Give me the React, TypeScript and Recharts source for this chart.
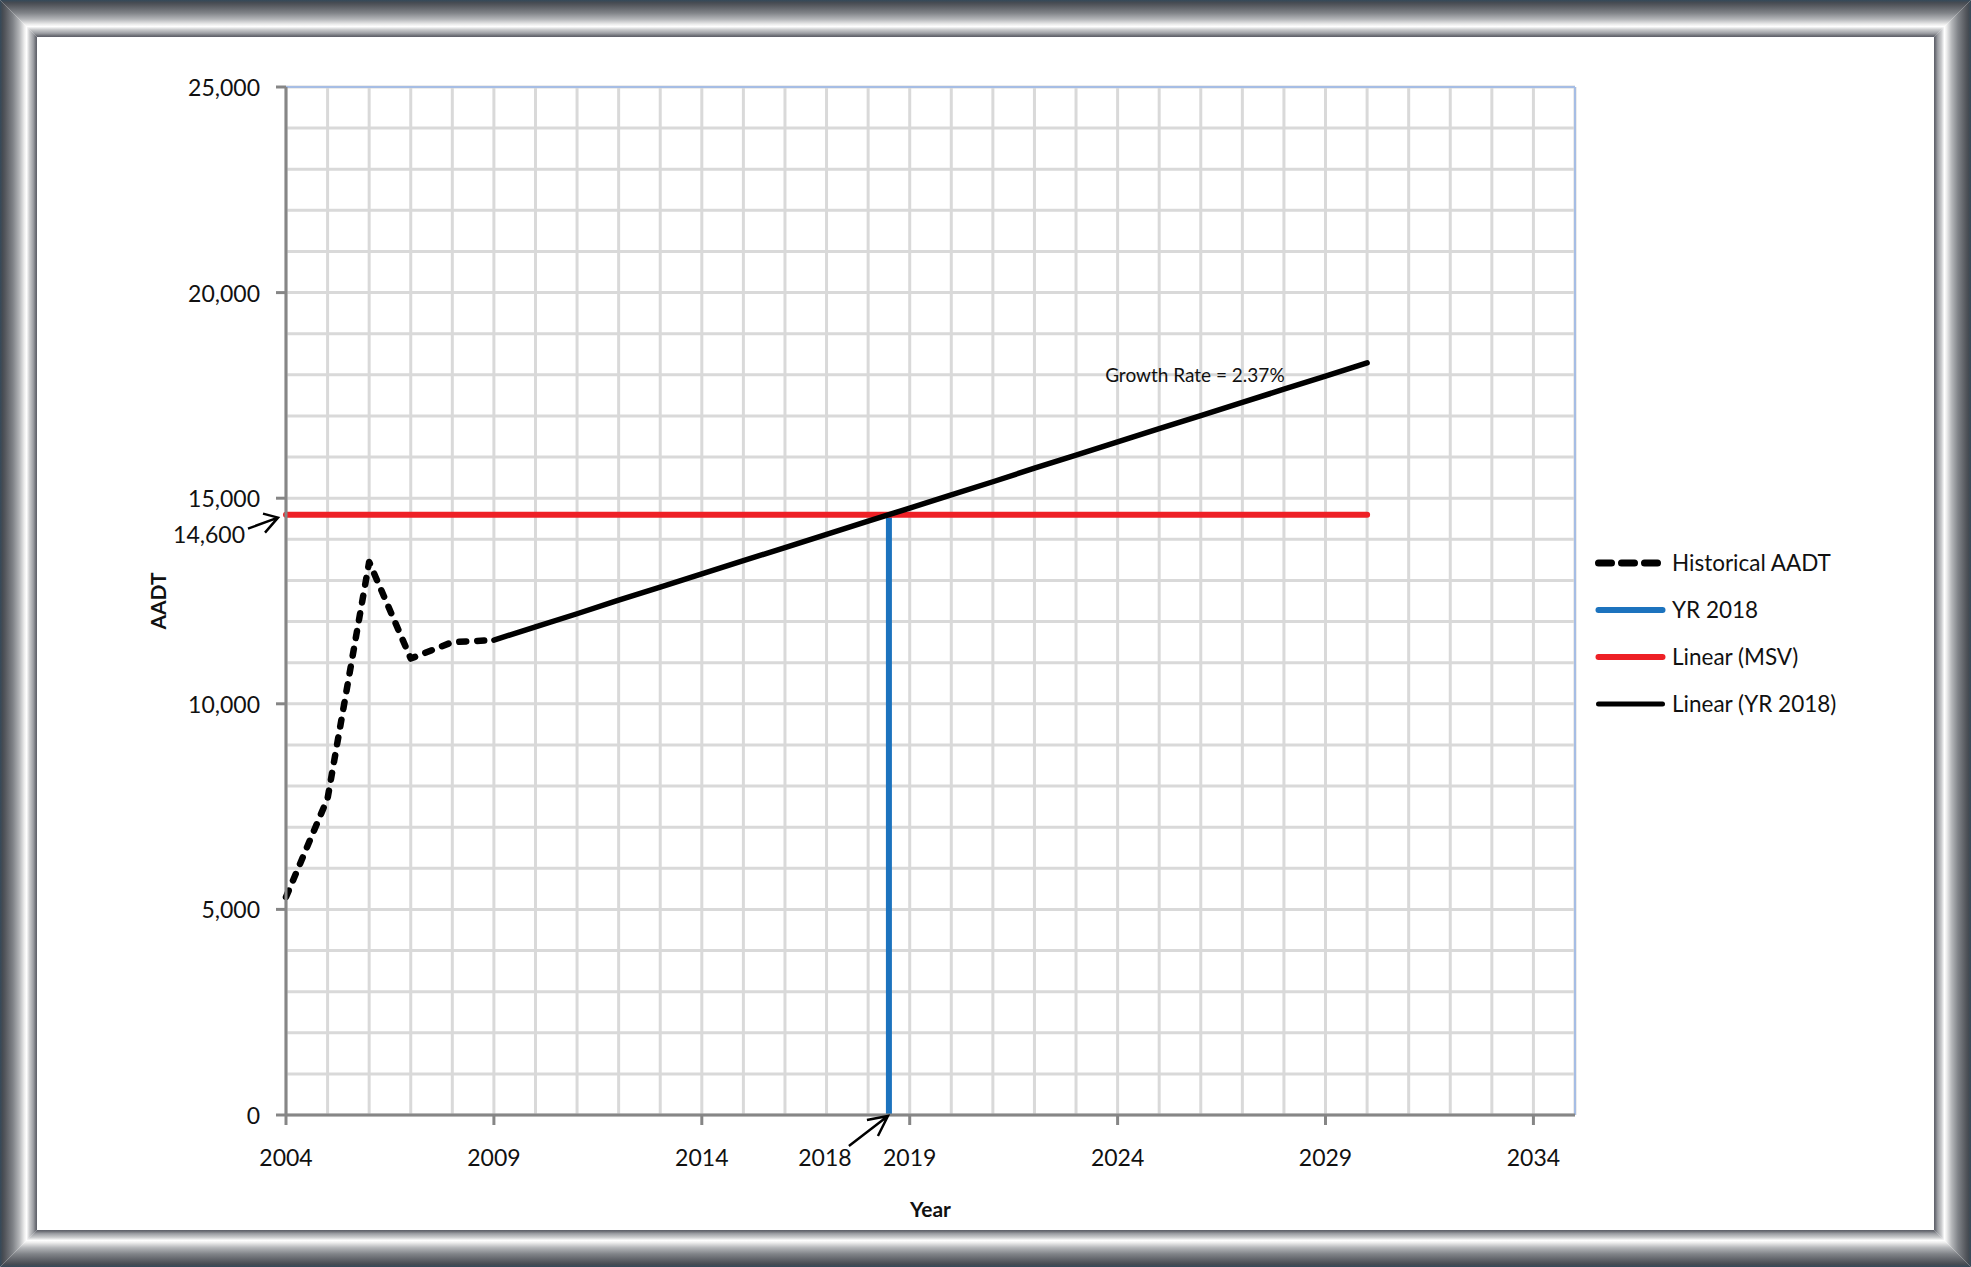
import React from "react";
import {
  LineChart,
  Line,
  XAxis,
  YAxis,
  CartesianGrid,
  Legend,
  Label,
  ReferenceLine,
  ReferenceDot,
} from "recharts";

// historical counts
const histYears = [2004, 2005, 2006, 2007, 2008, 2009];
const histAadt = [5300, 7700, 13450, 11100, 11500, 11550];

// linear projection through 2018
const trendYears = [
  2009, 2010, 2011, 2012, 2013, 2014, 2015, 2016, 2017, 2018, 2019, 2020,
  2021, 2022, 2023, 2024, 2025, 2026, 2027, 2028, 2029, 2030,
];
const trendAadt = [
  11550, 11870, 12190, 12520, 12840, 13160, 13480, 13800, 14120, 14440,
  14760, 15080, 15400, 15730, 16050, 16370, 16690, 17010, 17330, 17650,
  17970, 18290,
];

// maximum service volume
const msvYears = [2004, 2030];
const msvAadt = [14600, 14600];

// design year marker
const yr2018Years = [2018.5, 2018.5];
const yr2018Aadt = [0, 14600];

const xLabelYears = [2004, 2009, 2014, 2019, 2024, 2029, 2034];
const yLabelValues = [0, 5000, 10000, 15000, 20000, 25000];
const gridYears = Array.from({ length: 32 }, (_, i) => 2004 + i);
const gridAadt = Array.from({ length: 26 }, (_, i) => i * 1000);

const legendNames = ["Historical AADT", "YR 2018", "Linear (MSV)", "Linear (YR 2018)"];
const legendColors = ["#000000", "#1C73BE", "#EE2026", "#000000"];
const legendWidths = [7, 6, 6, 5];

const toPoints = (xs: number[], ys: number[]) =>
  xs.map((year, i) => ({ year, aadt: ys[i] }));

const W = 1971;
const H = 1267;
const F = 37; // frame width
const FONT = "Lato, 'Open Sans', sans-serif";
const AXIS = "#868686";
const X_GAP = 42;
const Y_GAP = 26;

function XTick(props: any) {
  const { x, y, payload } = props;
  if (!xLabelYears.includes(payload.value)) return <g />;
  return (
    <g>
      <line x1={x} x2={x} y1={y - X_GAP} y2={y - X_GAP + 10} stroke={AXIS} strokeWidth={3} />
      <text x={x} y={y} textAnchor="middle" dominantBaseline="central" fontFamily={FONT} fontSize={23} fill="#111">
        {payload.value}
      </text>
    </g>
  );
}

function YTick(props: any) {
  const { x, y, payload } = props;
  if (!yLabelValues.includes(payload.value)) return <g />;
  return (
    <g>
      <line x1={x + Y_GAP - 10} x2={x + Y_GAP} y1={y} y2={y} stroke={AXIS} strokeWidth={3} />
      <text x={x} y={y} textAnchor="end" dominantBaseline="central" fontFamily={FONT} fontSize={23} fill="#111">
        {payload.value.toLocaleString("en-US")}
      </text>
    </g>
  );
}

function Frame() {
  const stops = [
    [0, "#34495a"],
    [0.07, "#464b52"],
    [0.14, "#54575d"],
    [0.35, "#808388"],
    [0.52, "#b3b5b8"],
    [0.66, "#eeeeee"],
    [0.72, "#ffffff"],
    [0.8, "#cacbcd"],
    [0.9, "#9c9ea3"],
    [0.96, "#707279"],
    [1, "#5c5e68"],
  ];
  const grad = (id: string, x1: number, y1: number, x2: number, y2: number) => (
    <linearGradient id={id} x1={x1} y1={y1} x2={x2} y2={y2}>
      {stops.map(([o, c]) => (
        <stop key={String(o)} offset={o as number} stopColor={c as string} />
      ))}
    </linearGradient>
  );
  return (
    <svg width={W} height={H} style={{ position: "absolute", left: 0, top: 0 }}>
      <defs>
        {grad("fTop", 0, 0, 0, 1)}
        {grad("fBottom", 0, 1, 0, 0)}
        {grad("fLeft", 0, 0, 1, 0)}
        {grad("fRight", 1, 0, 0, 0)}
      </defs>
      <rect x={F} y={F} width={W - 2 * F} height={H - 2 * F} fill="#ffffff" />
      <polygon points={`0,0 ${W},0 ${W - F},${F} ${F},${F}`} fill="url(#fTop)" />
      <polygon points={`0,${H} ${W},${H} ${W - F},${H - F} ${F},${H - F}`} fill="url(#fBottom)" />
      <polygon points={`0,0 ${F},${F} ${F},${H - F} 0,${H}`} fill="url(#fLeft)" />
      <polygon points={`${W},0 ${W - F},${F} ${W - F},${H - F} ${W},${H}`} fill="url(#fRight)" />
    </svg>
  );
}

const renderLegend = () => (
  <div style={{ fontFamily: FONT, fontSize: 22.5, color: "#111" }}>
    {legendNames.map((name, i) => (
      <div key={name} style={{ display: "flex", alignItems: "center", height: 47 }}>
        <svg width={78} height={12}>
          <line
            x1={6.5}
            x2={70.5}
            y1={6}
            y2={6}
            stroke={legendColors[i]}
            strokeWidth={legendWidths[i]}
            strokeLinecap="round"
            strokeDasharray={i === 0 ? "13 10" : undefined}
          />
        </svg>
        <span style={{ marginLeft: 2, whiteSpace: "nowrap" }}>{name}</span>
      </div>
    ))}
  </div>
);

const arrow14600 = (p: any) => {
  const { cx, cy } = p;
  return (
    <g>
      <path
        d={`M${cx - 38},${cy + 14} L${cx - 8},${cy + 3} M${cx - 23},${cy - 1} L${cx - 8},${cy + 3} L${cx - 21},${cy + 18}`}
        stroke="#000"
        strokeWidth={2.5}
        fill="none"
      />
      <text x={cx - 41} y={cy + 19} textAnchor="end" dominantBaseline="central" fontFamily={FONT} fontSize={23} fill="#111">
        14,600
      </text>
    </g>
  );
};

const arrow2018 = (p: any) => {
  const { cx, cy } = p;
  return (
    <g>
      <path
        d={`M${cx - 40},${cy + 31} L${cx - 1},${cy + 1} M${cx - 22},${cy + 5} L${cx - 1},${cy + 1} L${cx - 11},${cy + 21}`}
        stroke="#000"
        strokeWidth={2.5}
        fill="none"
      />
      <text x={cx - 64} y={cy + 42} textAnchor="middle" dominantBaseline="central" fontFamily={FONT} fontSize={23} fill="#111">
        2018
      </text>
    </g>
  );
};

const growthLabel = (p: any) => (
  <text x={p.cx} y={p.cy} dominantBaseline="central" fontFamily={FONT} fontSize={19} fill="#111">
    Growth Rate = 2.37%
  </text>
);

export default function App() {
  return (
    <div style={{ position: "absolute", left: 0, top: 0, width: W, height: H, background: "#fff" }}>
      <Frame />
      <LineChart
        width={W}
        height={H}
        margin={{ top: 87, right: 396, left: 206, bottom: 92 }}
        style={{ position: "absolute", left: 0, top: 0, fontFamily: FONT }}
      >
        <CartesianGrid stroke="#d9d9d9" strokeWidth={3} />
        <XAxis
          dataKey="year"
          type="number"
          domain={[2004, 2035]}
          ticks={gridYears}
          interval={0}
          height={60}
          tick={<XTick />}
          tickLine={false}
          tickSize={0}
          tickMargin={X_GAP}
          axisLine={{ stroke: AXIS, strokeWidth: 3 }}
        >
          <Label
            content={(p: any) => (
              <text
                x={p.viewBox.x + p.viewBox.width / 2}
                y={p.viewBox.y + 93}
                textAnchor="middle"
                dominantBaseline="central"
                fontFamily={FONT}
                fontSize={21}
                fontWeight="bold"
                fill="#111"
              >
                Year
              </text>
            )}
          />
        </XAxis>
        <YAxis
          type="number"
          domain={[0, 25000]}
          ticks={gridAadt}
          interval={0}
          width={80}
          tick={<YTick />}
          tickLine={false}
          tickSize={0}
          tickMargin={Y_GAP}
          axisLine={{ stroke: AXIS, strokeWidth: 3 }}
        >
          <Label
            content={(p: any) => {
              const cx = p.viewBox.x - 49;
              const cy = p.viewBox.y + p.viewBox.height / 2;
              return (
                <text
                  x={cx}
                  y={cy}
                  transform={`rotate(-90 ${cx} ${cy})`}
                  textAnchor="middle"
                  dominantBaseline="central"
                  fontFamily={FONT}
                  fontSize={21}
                  fontWeight="bold"
                  fill="#111"
                >
                  AADT
                </text>
              );
            }}
          />
        </YAxis>
        <ReferenceLine y={25000} stroke="#a6bde4" strokeWidth={2} />
        <ReferenceLine x={2035} stroke="#a6bde4" strokeWidth={2} />
        <Line
          data={toPoints(yr2018Years, yr2018Aadt)}
          dataKey="aadt"
          name={legendNames[1]}
          stroke={legendColors[1]}
          strokeWidth={6}
          dot={false}
          activeDot={false}
          isAnimationActive={false}
        />
        <Line
          data={toPoints(msvYears, msvAadt)}
          dataKey="aadt"
          name={legendNames[2]}
          stroke={legendColors[2]}
          strokeWidth={6}
          strokeLinecap="round"
          dot={false}
          activeDot={false}
          isAnimationActive={false}
        />
        <Line
          data={toPoints(histYears, histAadt)}
          dataKey="aadt"
          name={legendNames[0]}
          stroke={legendColors[0]}
          strokeWidth={6.5}
          strokeDasharray="7 11"
          strokeLinecap="round"
          strokeLinejoin="round"
          dot={false}
          activeDot={false}
          isAnimationActive={false}
        />
        <Line
          data={toPoints(trendYears, trendAadt)}
          dataKey="aadt"
          name={legendNames[3]}
          stroke={legendColors[3]}
          strokeWidth={5.5}
          strokeLinecap="round"
          strokeLinejoin="round"
          dot={false}
          activeDot={false}
          isAnimationActive={false}
        />
        <ReferenceDot x={2004} y={14600} r={1} shape={arrow14600} />
        <ReferenceDot x={2018.5} y={0} r={1} shape={arrow2018} />
        <ReferenceDot x={2023.7} y={18000} r={1} shape={growthLabel} />
        <Legend
          layout="vertical"
          align="center"
          verticalAlign="middle"
          content={renderLegend}
          wrapperStyle={{ left: 1592, top: 539, width: 330 }}
        />
      </LineChart>
    </div>
  );
}
